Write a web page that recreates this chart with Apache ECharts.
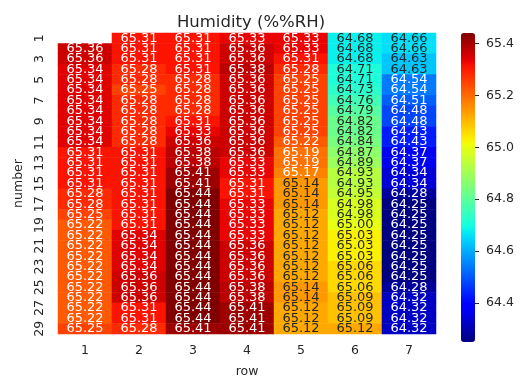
<!DOCTYPE html>
<html lang="en">
<head>
<meta charset="UTF-8">
<title>Humidity (%%RH)</title>
<style>
  * { margin: 0; padding: 0; box-sizing: border-box; }
  html, body { background: #fff; }
  #chart { width: 526px; height: 383px; }
</style>
</head>
<body>
<div id="chart"></div>
<script src="https://cdn.jsdelivr.net/npm/echarts@6/dist/echarts.min.js"></script>
<script>
// category labels
const cols = ['1', '2', '3', '4', '5', '6', '7']
const rows = ['1', '2', '3', '4', '5', '6', '7', '8', '9', '10', '11', '12', '13', '14', '15',
              '16', '17', '18', '19', '20', '21', '22', '23', '24', '25', '26', '27', '28', '29']

// one array per column (row 1 .. 29), null = empty cell
const col1 = [null, 65.36, 65.36, 65.34, 65.34, 65.34, 65.34, 65.34, 65.34, 65.34, 65.34, 65.31, 65.31, 65.31, 65.31,
              65.28, 65.28, 65.25, 65.22, 65.22, 65.22, 65.22, 65.22, 65.22, 65.22, 65.22, 65.22, 65.22, 65.25]
const col2 = [65.31, 65.31, 65.31, 65.28, 65.28, 65.25, 65.28, 65.28, 65.28, 65.28, 65.28, 65.31, 65.31, 65.31, 65.31,
              65.31, 65.31, 65.31, 65.31, 65.34, 65.34, 65.34, 65.34, 65.36, 65.36, 65.36, 65.31, 65.31, 65.28]
const col3 = [65.31, 65.31, 65.31, 65.31, 65.28, 65.28, 65.28, 65.28, 65.31, 65.33, 65.36, 65.38, 65.38, 65.41, 65.41,
              65.44, 65.44, 65.44, 65.44, 65.44, 65.44, 65.44, 65.44, 65.44, 65.44, 65.44, 65.44, 65.44, 65.41]
const col4 = [65.33, 65.36, 65.36, 65.38, 65.36, 65.36, 65.36, 65.36, 65.36, 65.36, 65.36, 65.36, 65.33, 65.33, 65.31,
              65.31, 65.33, 65.33, 65.33, 65.33, 65.36, 65.36, 65.36, 65.36, 65.38, 65.38, 65.41, 65.41, 65.41]
const col5 = [65.33, 65.33, 65.31, 65.28, 65.25, 65.25, 65.25, 65.25, 65.25, 65.25, 65.22, 65.19, 65.19, 65.17, 65.14,
              65.14, 65.14, 65.12, 65.12, 65.12, 65.12, 65.12, 65.12, 65.12, 65.14, 65.14, 65.12, 65.12, 65.12]
const col6 = [64.68, 64.68, 64.68, 64.71, 64.71, 64.73, 64.76, 64.79, 64.82, 64.82, 64.84, 64.87, 64.89, 64.93, 64.93,
              64.95, 64.98, 64.98, 65.00, 65.03, 65.03, 65.03, 65.06, 65.06, 65.06, 65.09, 65.09, 65.09, 65.12]
const col7 = [64.66, 64.66, 64.63, 64.63, 64.54, 64.54, 64.51, 64.48, 64.48, 64.43, 64.43, 64.37, 64.37, 64.34, 64.34,
              64.28, 64.25, 64.25, 64.25, 64.25, 64.25, 64.25, 64.25, 64.25, 64.28, 64.32, 64.32, 64.32, 64.32]

const colorbarTicks = [64.4, 64.6, 64.8, 65.0, 65.2, 65.4]
const vmin = 64.25
const vmax = 65.44

// matplotlib 'jet'
function jet(t) {
    const r = t < 0.35 ? 0 : t < 0.66 ? (t - 0.35) / 0.31 : t < 0.89 ? 1 : 1 - (t - 0.89) / 0.11 * 0.5
    const g = t < 0.125 ? 0 : t < 0.375 ? (t - 0.125) / 0.25 : t < 0.64 ? 1 : t < 0.91 ? 1 - (t - 0.64) / 0.27 : 0
    const b = t < 0.11 ? 0.5 + t / 0.11 * 0.5 : t < 0.34 ? 1 : t < 0.65 ? 1 - (t - 0.34) / 0.31 : 0
    return [r, g, b]
}
function toHex(c) {
    return '#' + c.map(v => Math.round(Math.max(0, Math.min(1, v)) * 255).toString(16).padStart(2, '0')).join('')
}
const jetColors = []
for (let i = 0; i <= 128; i++) jetColors.push(toHex(jet(i / 128)))

// seaborn picks dark or white text from the cell luminance
function textColor(v) {
    const lin = jet((v - vmin) / (vmax - vmin)).map(c => c <= 0.04045 ? c / 12.92 : Math.pow((c + 0.055) / 1.055, 2.4))
    const lum = 0.2126 * lin[0] + 0.7152 * lin[1] + 0.0722 * lin[2]
    return lum > 0.408 ? '#262626' : '#ffffff'
}

const columns = [col1, col2, col3, col4, col5, col6, col7]
const cells = []
columns.forEach((col, ci) => {
    col.forEach((v, ri) => {
        if (v === null) return
        cells.push({ value: [ci, ri, v], label: { color: textColor(v) } })
    })
})

const font = 'DejaVu Sans'
const chart = echarts.init(document.getElementById('chart'))

chart.setOption({
    animation: false,
    title: {
        text: 'Humidity (%%RH)',
        left: 246,
        top: 9,
        textAlign: 'center',
        textStyle: { fontFamily: font, fontSize: 16.5, fontWeight: 'normal', color: '#262626' }
    },
    grid: [
        { left: 58, right: 90, top: 33, bottom: 41 },
        { left: 461, width: 14, top: 33, bottom: 41 }
    ],
    xAxis: [
        {
            type: 'category', data: cols, gridIndex: 0,
            name: 'row', nameLocation: 'middle', nameGap: 31,
            nameTextStyle: { fontFamily: font, fontSize: 12.5, color: '#262626' },
            axisLine: { show: false },
            axisTick: { alignWithLabel: true, length: 4, lineStyle: { color: '#262626' } },
            axisLabel: { fontFamily: font, fontSize: 12.5, color: '#262626', margin: 10 },
            splitArea: { show: false }
        },
        { type: 'category', gridIndex: 1, show: false, data: ['c'] }
    ],
    yAxis: [
        {
            type: 'category', data: rows, gridIndex: 0, inverse: true,
            name: 'number', nameLocation: 'middle', nameGap: 30, nameRotate: 90,
            nameTextStyle: { fontFamily: font, fontSize: 12.5, color: '#262626' },
            axisLine: { show: false },
            axisTick: { alignWithLabel: true, interval: 1, length: 4, lineStyle: { color: '#262626' } },
            axisLabel: { interval: 1, rotate: 90, fontFamily: font, fontSize: 12.5, color: '#262626', margin: 12 },
            splitArea: { show: false }
        },
        {
            type: 'value', gridIndex: 1, position: 'right', min: vmin, max: vmax,
            axisLine: { show: false },
            splitLine: { show: false },
            axisTick: { show: true, length: 4, customValues: colorbarTicks, lineStyle: { color: '#262626' } },
            axisLabel: {
                fontFamily: font, fontSize: 12.5, color: '#262626', margin: 11,
                customValues: colorbarTicks,
                formatter: v => v.toFixed(1)
            }
        }
    ],
    visualMap: {
        type: 'continuous',
        min: vmin, max: vmax,
        seriesIndex: 0,
        calculable: false,
        hoverLink: false,
        orient: 'vertical',
        left: 461, top: 33,
        itemWidth: 14, itemHeight: 309,
        padding: 0,
        inRange: { color: jetColors }
    },
    series: [
        {
            type: 'heatmap',
            xAxisIndex: 0, yAxisIndex: 0,
            data: cells,
            label: {
                show: true,
                fontFamily: font, fontSize: 13,
                formatter: p => p.value[2].toFixed(2)
            },
            emphasis: { disabled: true }
        }
    ]
})
</script>
</body>
</html>
